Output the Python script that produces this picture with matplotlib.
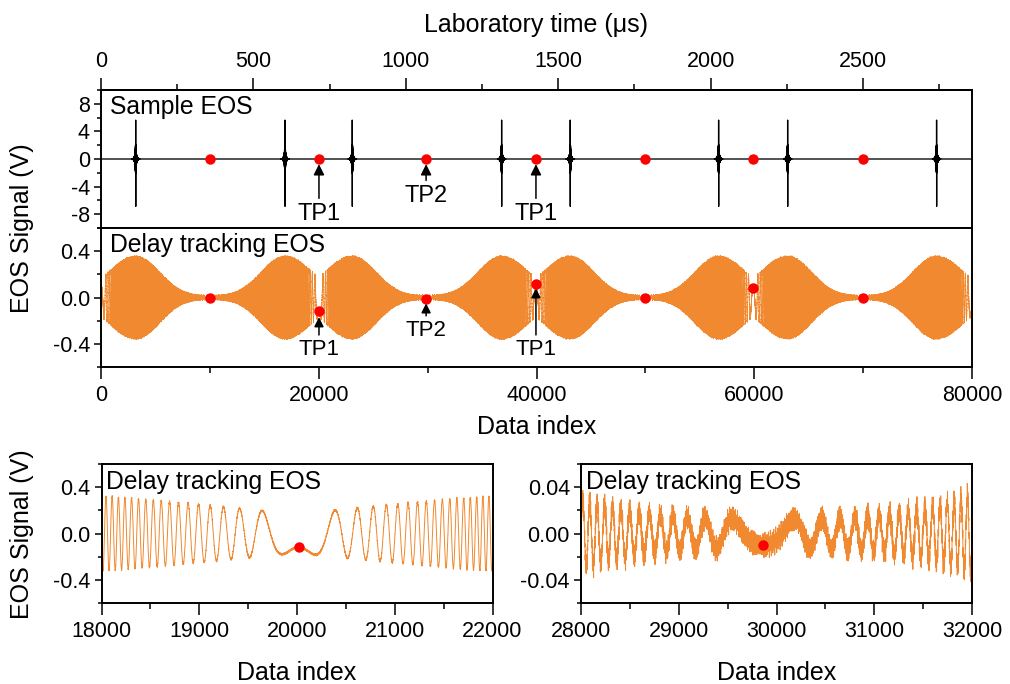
import numpy as np
import matplotlib
matplotlib.use("Agg")
import matplotlib.pyplot as plt
from matplotlib.ticker import MultipleLocator, FixedLocator, FormatStrFormatter

plt.rcParams['font.family'] = ['Liberation Sans', 'DejaVu Sans']
plt.rcParams['path.simplify'] = False
plt.rcParams['axes.unicode_minus'] = False

# ---------------- data ----------------
n_samples = 80000
sample_rate_mhz = 28.0                      # data points per microsecond
lab_time_ticks = [0, 500, 1000, 1500, 2000, 2500]

# turning points of the delay stage (1 = near end "TP1", 2 = far end "TP2")
tp_index = [0, 10000, 20020, 29860, 39950, 50000, 59900, 70000, 80000]
tp_kind = [1, 2, 1, 2, 1, 2, 1, 2, 1]
tp_value = [0.10, 0.0, -0.12, -0.01, 0.12, 0.0, 0.08, 0.0, -0.10]

# marked turning points (red dots)
marker_index = [10000, 20020, 29860, 39950, 50000, 59900, 70000]
marker_value = [0.0, -0.12, -0.01, 0.12, 0.0, 0.08, 0.0]

# sample EOS pulses
pulse_index = [3190, 16900, 23080, 36800, 43100, 56730, 63070, 76750]
pulse_peak = 6.1
pulse_trough = -6.4

# delay tracking envelope
env_peak = 0.355
env_width_tp1 = 3560.0
env_width_tp2 = 3100.0
env_floor = 0.012
phase_rate_tp1 = 1130.0     # rad per full sweep near TP1
phase_rate_tp2 = 1000.0     # rad per full sweep near TP2

ORANGE = '#F0892F'
RED = '#FF0000'

# ---------------- signals ----------------
t = np.arange(n_samples + 1, dtype=float)
tp = np.array(tp_index, float)
kind = np.array(tp_kind)

seg = np.clip(np.searchsorted(tp, t, side='right') - 1, 0, len(tp) - 2)
s = (t - tp[seg]) / (tp[seg + 1] - tp[seg])
ramp = (1 - np.cos(np.pi * s)) / 2
u = np.where(kind[seg] == 1, ramp, 1 - ramp)


def sweep_phase(x):
    return phase_rate_tp1 * x + (phase_rate_tp2 - phase_rate_tp1) * x ** 2 / 2


def envelope(x):
    x = np.atleast_1d(np.asarray(x, float))
    tp1 = tp[kind == 1]
    e = np.zeros_like(x)
    for c in pulse_index:
        side = np.sign(tp1[np.argmin(np.abs(tp1 - c))] - c)
        d = x - c
        w = np.where(np.sign(d) == side, env_width_tp1, env_width_tp2)
        e = np.maximum(e, env_peak * np.exp(-(d / w) ** 2))
    return np.sqrt(e ** 2 + env_floor ** 2)


env = envelope(t)
env_tp = envelope(tp)
phi_tp = np.arccos(np.clip(np.array(tp_value) / env_tp, -1, 1))
u_tp = np.where(kind == 1, 0.0, 1.0)
off = phi_tp - sweep_phase(u_tp)
for i in range(1, len(off)):
    d = (off[i] - off[i - 1] + np.pi) % (2 * np.pi) - np.pi
    off[i] = off[i - 1] + d
offset = off[seg] + (off[seg + 1] - off[seg]) * ramp

ripple = (0.005 * np.sin(2.17 * t) + 0.004 * np.sin(0.93 * t + 1.3 * np.sin(0.011 * t))
          + 0.003 * np.sin(1.61 * t + 2.0 * np.sin(0.0047 * t)))
delay_signal = env * np.cos(sweep_phase(u) + offset) + ripple

sample_signal = np.zeros_like(t)
for c in pulse_index:
    d = t - c
    core = np.exp(-(d / 6.0) ** 2)
    sample_signal += pulse_peak * np.exp(-((d + 3) / 1.5) ** 2)
    sample_signal += pulse_trough * np.exp(-((d - 3) / 1.5) ** 2)
    wing = (1.6 * np.exp(-(d / 40) ** 2) + 0.7 * np.exp(-(d / 160) ** 2))
    sample_signal += (1 - core) * wing * np.cos(2 * np.pi * d / 5.3)

# ---------------- figure ----------------
fig = plt.figure(figsize=(10.10, 6.84), dpi=100)
W, H = 1010.0, 684.0


def axes_px(l, t_, r, b):
    return fig.add_axes([l / W, 1 - b / H, (r - l) / W, (b - t_) / H])


ax_top = axes_px(101, 90, 972, 228)
ax_mid = axes_px(101, 228, 972, 367)
ax_bl = axes_px(101.5, 464, 492.5, 603)
ax_br = axes_px(581, 464, 972, 603)

TICK_FS = 15.5
LABEL_FS = 18
TITLE_FS = 17.8

for ax in (ax_top, ax_mid, ax_bl, ax_br):
    for sp in ax.spines.values():
        sp.set_linewidth(1.4)
    ax.tick_params(which='both', direction='out', width=1.1, labelsize=TICK_FS,
                   top=False, right=False)
    ax.tick_params(axis='x', which='major', length=8.3, pad=5)
    ax.tick_params(axis='x', which='minor', length=4.5)
    ax.tick_params(axis='y', which='major', length=5, pad=3)
    ax.tick_params(axis='y', which='minor', length=3)

# top panel: sample EOS
ax_top.plot(t, sample_signal, color='k', lw=0.95)
ax_top.plot(marker_index, np.zeros(len(marker_index)), 'o', color=RED,
            ms=7.5, mec='none', zorder=5)
ax_top.set_xlim(0, n_samples)
ax_top.set_ylim(-10, 10)
ax_top.set_yticks([-8, -4, 0, 4, 8])
ax_top.yaxis.set_minor_locator(MultipleLocator(2))
ax_top.tick_params(axis='x', which='both', bottom=False, labelbottom=False)
ax_top.text(0.01, 0.965, 'Sample EOS', transform=ax_top.transAxes, ha='left', va='top',
            fontsize=TITLE_FS)

lab = ax_top.secondary_xaxis('top', functions=(lambda x: x / sample_rate_mhz,
                                               lambda x: x * sample_rate_mhz))
lab.xaxis.set_major_locator(FixedLocator(lab_time_ticks))
lab.xaxis.set_minor_locator(FixedLocator(np.arange(250, 2851, 500)))
lab.tick_params(which='both', direction='out', width=1.1, labelsize=TICK_FS)
lab.tick_params(which='major', length=8.3, pad=5)
lab.tick_params(which='minor', length=4.5)
lab.spines['top'].set_linewidth(1.4)
lab.set_xlabel('Laboratory time (\u03bcs)', fontsize=LABEL_FS, labelpad=13)

arrow = dict(arrowstyle='-|>', color='k', lw=1.1, mutation_scale=16, shrinkA=1, shrinkB=0)
ax_top.annotate('TP1', xy=(tp_index[2], -0.75), xytext=(tp_index[2], -7.9),
                ha='center', va='center', fontsize=17, arrowprops=arrow)
ax_top.annotate('TP2', xy=(tp_index[3], -0.75), xytext=(tp_index[3], -5.3),
                ha='center', va='center', fontsize=17, arrowprops=arrow)
ax_top.annotate('TP1', xy=(tp_index[4], -0.75), xytext=(tp_index[4], -7.9),
                ha='center', va='center', fontsize=17, arrowprops=arrow)

# middle panel: delay tracking EOS
ax_mid.plot(t, delay_signal, color=ORANGE, lw=0.5)
ax_mid.plot(marker_index, marker_value, 'o', color=RED, ms=7.5, mec='none', zorder=5)
ax_mid.set_xlim(0, n_samples)
ax_mid.set_ylim(-0.6, 0.6)
ax_mid.set_yticks([-0.4, 0.0, 0.4])
ax_mid.yaxis.set_minor_locator(MultipleLocator(0.2))
ax_mid.yaxis.set_major_formatter(FormatStrFormatter('%.1f'))
ax_mid.xaxis.set_major_locator(MultipleLocator(20000))
ax_mid.xaxis.set_minor_locator(MultipleLocator(10000))
ax_mid.set_xlabel('Data index', fontsize=LABEL_FS, labelpad=6)
ax_mid.text(0.01, 0.965, 'Delay tracking EOS', transform=ax_mid.transAxes, ha='left',
            va='top', fontsize=TITLE_FS)

arrow2 = dict(arrowstyle='-|>', color='k', lw=1.1, mutation_scale=14, shrinkA=1, shrinkB=0)
ax_mid.annotate('TP1', xy=(tp_index[2], marker_value[1] - 0.05),
                xytext=(tp_index[2], -0.45), ha='center', va='center', fontsize=16,
                arrowprops=arrow2)
ax_mid.annotate('TP2', xy=(tp_index[3], marker_value[2] - 0.04),
                xytext=(tp_index[3], -0.285), ha='center', va='center', fontsize=16,
                arrowprops=arrow2)
ax_mid.annotate('TP1', xy=(tp_index[4], marker_value[3] - 0.04),
                xytext=(tp_index[4], -0.45), ha='center', va='center', fontsize=16,
                arrowprops=arrow2)

fig.text(22 / W, 1 - 228 / H, 'EOS Signal (V)', rotation=90, ha='center', va='center',
         fontsize=LABEL_FS)

# bottom panels: zoom around TP1 and TP2
for ax, (x0, x1), ylim, major, minor, fmt in (
        (ax_bl, (18000, 22000), 0.6, 0.4, 0.2, '%.1f'),
        (ax_br, (28000, 32000), 0.06, 0.04, 0.02, '%.2f')):
    m = (t >= x0) & (t <= x1)
    ax.plot(t[m], delay_signal[m], color=ORANGE, lw=0.7)
    sel = [i for i, x in enumerate(marker_index) if x0 < x < x1]
    ax.plot([marker_index[i] for i in sel], [marker_value[i] for i in sel], 'o',
            color=RED, ms=7.5, mec='none', zorder=5)
    ax.set_xlim(x0, x1)
    ax.set_ylim(-ylim, ylim)
    ax.set_yticks([-major, 0, major])
    ax.yaxis.set_minor_locator(MultipleLocator(minor))
    ax.yaxis.set_major_formatter(FormatStrFormatter(fmt))
    ax.xaxis.set_major_locator(MultipleLocator(1000))
    ax.xaxis.set_minor_locator(MultipleLocator(500))
    ax.set_xlabel('Data index', fontsize=LABEL_FS, labelpad=13)
    ax.text(0.012, 0.955, 'Delay tracking EOS', transform=ax.transAxes, ha='left',
            va='top', fontsize=TITLE_FS)

fig.text(22 / W, 1 - 534 / H, 'EOS Signal (V)', rotation=90, ha='center', va='center',
         fontsize=LABEL_FS)

fig.savefig('out.png', dpi=100)
